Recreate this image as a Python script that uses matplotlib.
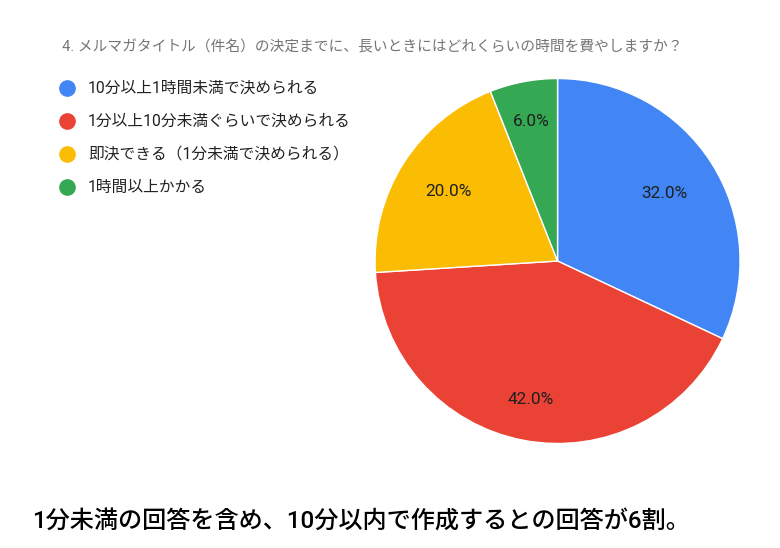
import numpy as np
import matplotlib
matplotlib.use('Agg')
import matplotlib.pyplot as plt
from matplotlib.lines import Line2D

plt.rcParams['font.family'] = ['Roboto', 'Noto Sans CJK JP', 'DejaVu Sans']

# ── Data ──────────────────────────────────────────────────────────────────────
TITLE = '4. メルマガタイトル（件名）の決定までに、長いときにはどれくらいの時間を費やしますか？'
CAPTION = '1分未満の回答を含め、10分以内で作成するとの回答が6割。'
labels = ['10分以上1時間未満で決められる',
          '1分以上10分未満ぐらいで決められる',
          '即決できる（1分未満で決められる）',
          '1時間以上かかる']
values = [32.0, 42.0, 20.0, 6.0]
colors = ['#4285F4', '#EA4335', '#FBBC04', '#34A853']
label_dist = [0.695, 0.771, 0.706, 0.778]   # % label distance, fraction of radius

fig = plt.figure(figsize=(7.8, 5.48), dpi=100)
fig.patch.set_facecolor('white')

# ── Pie ───────────────────────────────────────────────────────────────────────
ax = fig.add_axes([0.4808, 0.1907, 0.468, 0.666])
wedges, texts, autotexts = ax.pie(values, colors=colors, startangle=90, counterclock=False,
                                  autopct='%.1f%%',
                                  wedgeprops=dict(edgecolor='white', linewidth=1),
                                  textprops=dict(fontsize=12.4, color='#1f1f1f'))
for w, t, d in zip(wedges, autotexts, label_dist):
    ang = np.deg2rad((w.theta1 + w.theta2) / 2)
    t.set_position((d * np.cos(ang), d * np.sin(ang)))
ax.set_xlim(-1, 1); ax.set_ylim(-1, 1)
ax.set_aspect('equal')
ax.axis('off')

# ── Title / legend / caption ──────────────────────────────────────────────────
fig.text(62 / 780, 1 - 47 / 548, TITLE, fontsize=10.6, color='#757575', va='center', ha='left')
for i, (lab, col) in enumerate(zip(labels, colors)):
    y = 1 - (88 + 33 * i) / 548
    fig.add_artist(Line2D([67 / 780], [y], marker='o', markersize=11, color=col,
                          markeredgecolor=col, transform=fig.transFigure))
    fig.text(88 / 780, y, lab, fontsize=11.3, color='#222222', va='center', ha='left')

fig.text(32 / 780, 1 - 521 / 548, CAPTION, fontsize=17.4, color='black', weight='medium',
         va='center', ha='left')

plt.savefig('out.png', dpi=100, facecolor='white')
